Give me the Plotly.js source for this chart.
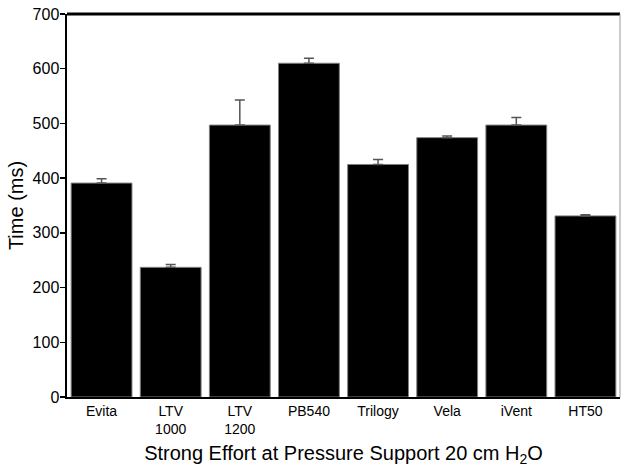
<!DOCTYPE html>
<html><head><meta charset="utf-8">
<script src="https://cdn.plot.ly/plotly-3.0.1.min.js"></script>
<style>body{margin:0;padding:0;background:#fff}#chart{width:621px;height:468px}</style>
</head><body><div id="chart"></div>
<script>
var categories = ["Evita", "LTV<br>1000", "LTV<br>1200", "PB540", "Trilogy", "Vela", "iVent", "HT50"];
var timeMs = [391, 237, 497, 610, 425, 474, 497, 331];
var errUpper = [8, 5, 46, 9, 9, 3, 14, 2];
var yTicks = [0, 100, 200, 300, 400, 500, 600, 700];

var trace = {
  type: "bar",
  x: categories,
  y: timeMs,
  width: 0.88,
  marker: {color: "#000000", line: {color: "#808080", width: 1}},
  error_y: {type: "data", symmetric: false, array: errUpper, arrayminus: errUpper.map(function(){return 0;}),
            color: "#555555", thickness: 1.5, width: 5},
  hoverinfo: "none"
};

var layout = {
  width: 621, height: 468,
  margin: {l: 67, r: 1, t: 14, b: 71},
  paper_bgcolor: "#fff", plot_bgcolor: "#fff",
  showlegend: false,
  font: {family: "Liberation Sans, Arial, sans-serif", color: "#000"},
  xaxis: {
    type: "category", showgrid: false, zeroline: false,
    showline: true, linecolor: "#000", linewidth: 2,
    ticks: "", tickfont: {size: 14}, range: [-0.5, 7.5],
    title: {text: "Strong Effort at Pressure Support 20 cm H<sub>2</sub>O", font: {size: 20}, standoff: 10}
  },
  yaxis: {
    range: [0, 700], tickvals: yTicks, ticktext: yTicks.map(String),
    showgrid: false, zeroline: false,
    showline: true, linecolor: "#000", linewidth: 2.5,
    ticks: "outside", ticklen: 5, tickwidth: 1.5, tickcolor: "#000",
    tickfont: {size: 16}, ticklabelstandoff: -3,
    title: {text: "Time (ms)", font: {size: 20}, standoff: 4}
  },
  shapes: [
    {type: "line", xref: "paper", yref: "paper", x0: 0, x1: 1, y0: 1, y1: 1, line: {color: "#000", width: 3}},
    {type: "line", xref: "paper", yref: "paper", x0: 1, x1: 1, y0: 0, y1: 1, line: {color: "#999", width: 1}}
  ]
};

Plotly.newPlot("chart", [trace], layout, {displayModeBar: false, staticPlot: true});
</script></body></html>
